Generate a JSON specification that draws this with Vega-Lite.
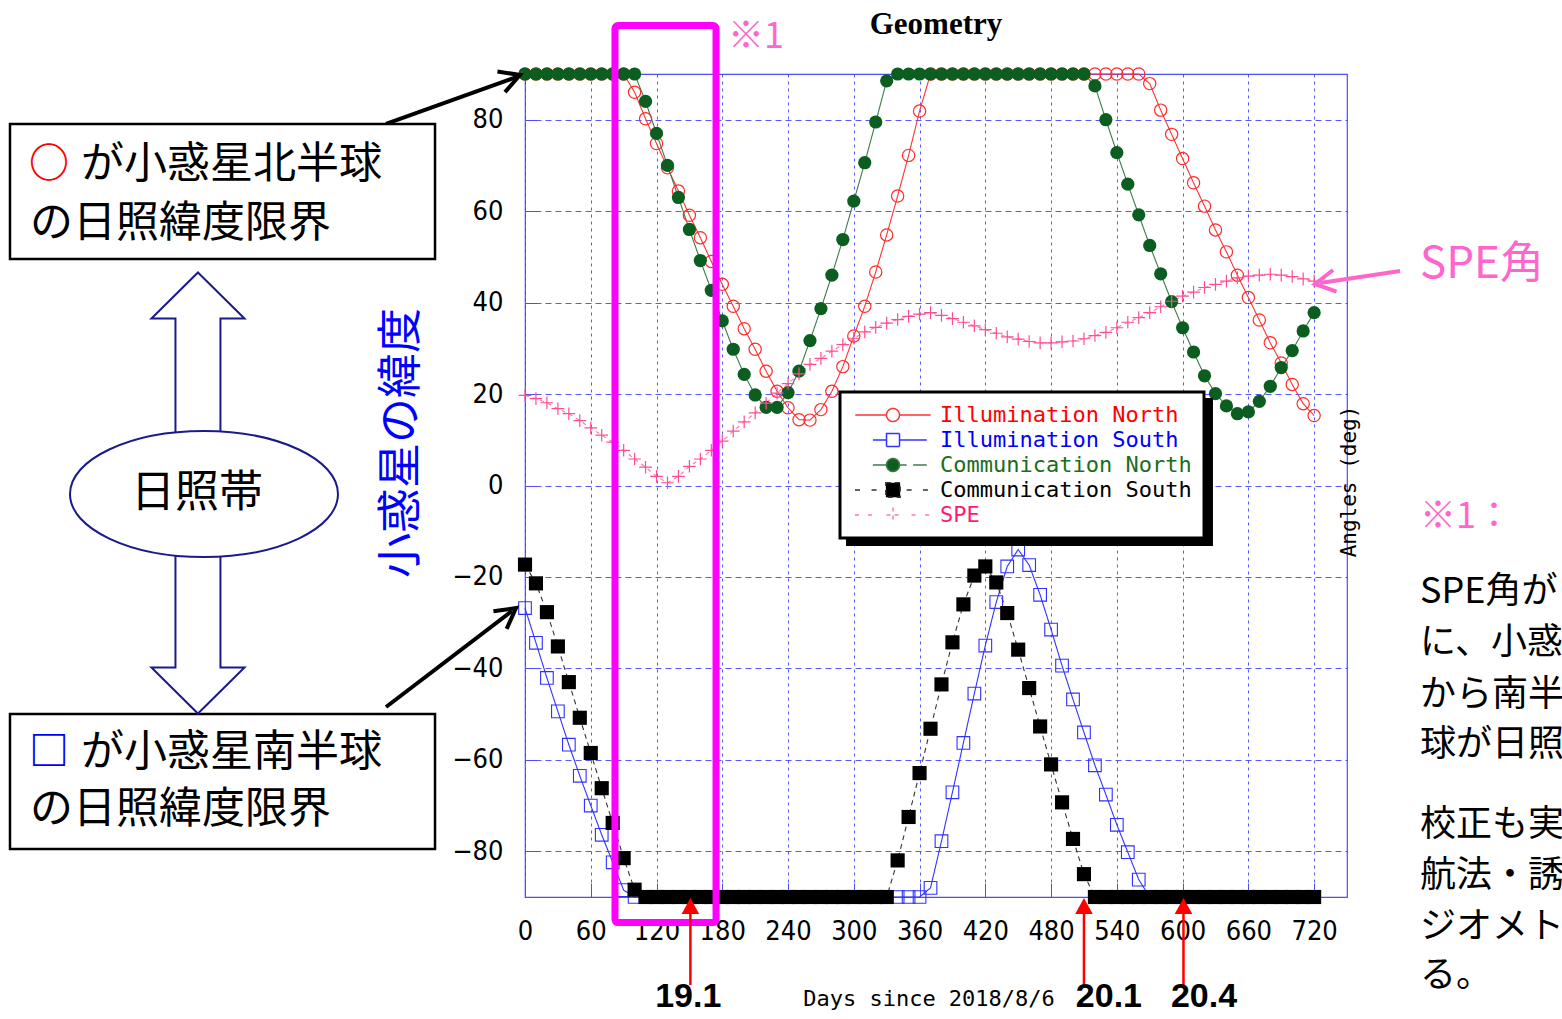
{
  "$schema": "https://vega.github.io/schema/vega-lite/v6.json",
  "width": 822,
  "height": 823,
  "autosize": {"type": "none"},
  "padding": {"left": 525, "top": 74, "right": 215, "bottom": 122},
  "background": "white",
  "title": {"text": "Geometry", "font": "Liberation Serif", "fontSize": 31, "fontWeight": "bold", "color": "#000000", "anchor": "middle", "frame": "group", "offset": -46, "baseline": "alphabetic"},
  "config": {
    "view": {"stroke": "#4d4dff", "strokeWidth": 1.2},
    "text": {"font": "Noto Sans CJK JP"}
  },
  "datasets": {
    "geo": [
      {"d":0,"Illumination North":90,"Illumination South":-26.8,"Communication North":90,"Communication South":-17.3,"SPE":19.7},
      {"d":10,"Illumination North":90,"Illumination South":-34.4,"Communication North":90,"Communication South":-21.4,"SPE":19.0},
      {"d":20,"Illumination North":90,"Illumination South":-42.1,"Communication North":90,"Communication South":-27.7,"SPE":18.1},
      {"d":30,"Illumination North":90,"Illumination South":-49.4,"Communication North":90,"Communication South":-35.2,"SPE":16.8},
      {"d":40,"Illumination North":90,"Illumination South":-56.7,"Communication North":90,"Communication South":-43.0,"SPE":15.7},
      {"d":50,"Illumination North":90,"Illumination South":-63.5,"Communication North":90,"Communication South":-50.8,"SPE":14.2},
      {"d":60,"Illumination North":90,"Illumination South":-70.0,"Communication North":90,"Communication South":-58.5,"SPE":12.6},
      {"d":70,"Illumination North":90,"Illumination South":-76.4,"Communication North":90,"Communication South":-66.2,"SPE":11.0},
      {"d":80,"Illumination North":90,"Illumination South":-82.4,"Communication North":90,"Communication South":-73.8,"SPE":9.5},
      {"d":90,"Illumination North":90,"Illumination South":-88.5,"Communication North":90,"Communication South":-81.5,"SPE":7.7},
      {"d":100,"Illumination North":86.0,"Illumination South":-90,"Communication North":90,"Communication South":-88.4,"SPE":5.8},
      {"d":110,"Illumination North":80.2,"Illumination South":-90,"Communication North":84.0,"Communication South":-90,"SPE":4.0},
      {"d":120,"Illumination North":74.8,"Illumination South":-90,"Communication North":77.0,"Communication South":-90,"SPE":2.0},
      {"d":130,"Illumination North":69.5,"Illumination South":-90,"Communication North":70.0,"Communication South":-90,"SPE":0.6},
      {"d":140,"Illumination North":64.4,"Illumination South":-90,"Communication North":63.0,"Communication South":-90,"SPE":2.0},
      {"d":150,"Illumination North":59.1,"Illumination South":-90,"Communication North":56.0,"Communication South":-90,"SPE":4.2},
      {"d":160,"Illumination North":54.2,"Illumination South":-90,"Communication North":49.2,"Communication South":-90,"SPE":5.8},
      {"d":170,"Illumination North":49.0,"Illumination South":-90,"Communication North":42.7,"Communication South":-90,"SPE":7.7},
      {"d":180,"Illumination North":44.0,"Illumination South":-90,"Communication North":36.0,"Communication South":-90,"SPE":9.7},
      {"d":190,"Illumination North":39.2,"Illumination South":-90,"Communication North":29.8,"Communication South":-90,"SPE":11.9},
      {"d":200,"Illumination North":34.3,"Illumination South":-90,"Communication North":24.3,"Communication South":-90,"SPE":13.9},
      {"d":210,"Illumination North":29.8,"Illumination South":-90,"Communication North":19.8,"Communication South":-90,"SPE":15.9},
      {"d":220,"Illumination North":25.0,"Illumination South":-90,"Communication North":17.1,"Communication South":-90,"SPE":18.0},
      {"d":230,"Illumination North":20.6,"Illumination South":-90,"Communication North":17.1,"Communication South":-90,"SPE":20.2},
      {"d":240,"Illumination North":17.0,"Illumination South":-90,"Communication North":20.3,"Communication South":-90,"SPE":22.3},
      {"d":250,"Illumination North":14.4,"Illumination South":-90,"Communication North":25.0,"Communication South":-90,"SPE":24.4},
      {"d":260,"Illumination North":14.3,"Illumination South":-90,"Communication North":31.7,"Communication South":-90,"SPE":26.5},
      {"d":270,"Illumination North":16.6,"Illumination South":-90,"Communication North":38.7,"Communication South":-90,"SPE":27.8},
      {"d":280,"Illumination North":20.6,"Illumination South":-90,"Communication North":46.0,"Communication South":-90,"SPE":29.4},
      {"d":290,"Illumination North":26.0,"Illumination South":-90,"Communication North":53.8,"Communication South":-90,"SPE":30.8},
      {"d":300,"Illumination North":32.7,"Illumination South":-90,"Communication North":62.2,"Communication South":-90,"SPE":32.2},
      {"d":310,"Illumination North":39.2,"Illumination South":-90,"Communication North":70.6,"Communication South":-90,"SPE":33.6},
      {"d":320,"Illumination North":46.7,"Illumination South":-90,"Communication North":79.5,"Communication South":-90,"SPE":34.6},
      {"d":330,"Illumination North":54.8,"Illumination South":-90,"Communication North":88.5,"Communication South":-90,"SPE":35.5},
      {"d":340,"Illumination North":63.3,"Illumination South":-90,"Communication North":90,"Communication South":-82.0,"SPE":36.3},
      {"d":350,"Illumination North":72.2,"Illumination South":-90,"Communication North":90,"Communication South":-72.5,"SPE":37.0},
      {"d":360,"Illumination North":81.9,"Illumination South":-90,"Communication North":90,"Communication South":-62.9,"SPE":37.5},
      {"d":370,"Illumination North":90,"Illumination South":-88.0,"Communication North":90,"Communication South":-53.2,"SPE":37.8},
      {"d":380,"Illumination North":90,"Illumination South":-77.8,"Communication North":90,"Communication South":-43.5,"SPE":37.2},
      {"d":390,"Illumination North":90,"Illumination South":-67.1,"Communication North":90,"Communication South":-34.3,"SPE":36.5},
      {"d":400,"Illumination North":90,"Illumination South":-56.3,"Communication North":90,"Communication South":-26.0,"SPE":35.7},
      {"d":410,"Illumination North":90,"Illumination South":-45.5,"Communication North":90,"Communication South":-19.7,"SPE":34.9},
      {"d":420,"Illumination North":90,"Illumination South":-35.0,"Communication North":90,"Communication South":-17.7,"SPE":34.1},
      {"d":430,"Illumination North":90,"Illumination South":-25.5,"Communication North":90,"Communication South":-21.2,"SPE":33.3},
      {"d":440,"Illumination North":90,"Illumination South":-17.7,"Communication North":90,"Communication South":-27.9,"SPE":32.5},
      {"d":450,"Illumination North":90,"Illumination South":-14.0,"Communication North":90,"Communication South":-35.9,"SPE":32.0},
      {"d":460,"Illumination North":90,"Illumination South":-17.4,"Communication North":90,"Communication South":-44.3,"SPE":31.5},
      {"d":470,"Illumination North":90,"Illumination South":-23.9,"Communication North":90,"Communication South":-52.7,"SPE":31.2},
      {"d":480,"Illumination North":90,"Illumination South":-31.5,"Communication North":90,"Communication South":-61.0,"SPE":31.2},
      {"d":490,"Illumination North":90,"Illumination South":-39.4,"Communication North":90,"Communication South":-69.3,"SPE":31.4},
      {"d":500,"Illumination North":90,"Illumination South":-46.8,"Communication North":90,"Communication South":-77.3,"SPE":31.6},
      {"d":510,"Illumination North":90,"Illumination South":-54.0,"Communication North":90,"Communication South":-85.0,"SPE":32.1},
      {"d":520,"Illumination North":90,"Illumination South":-61.2,"Communication North":87.4,"Communication South":-90,"SPE":32.8},
      {"d":530,"Illumination North":90,"Illumination South":-67.6,"Communication North":80.0,"Communication South":-90,"SPE":33.5},
      {"d":540,"Illumination North":90,"Illumination South":-74.2,"Communication North":72.8,"Communication South":-90,"SPE":34.5},
      {"d":550,"Illumination North":90,"Illumination South":-80.2,"Communication North":65.9,"Communication South":-90,"SPE":35.7},
      {"d":560,"Illumination North":90,"Illumination South":-86.2,"Communication North":59.2,"Communication South":-90,"SPE":36.7},
      {"d":570,"Illumination North":87.9,"Illumination South":-90,"Communication North":52.5,"Communication South":-90,"SPE":37.8},
      {"d":580,"Illumination North":82.1,"Illumination South":-90,"Communication North":46.3,"Communication South":-90,"SPE":39.1},
      {"d":590,"Illumination North":76.8,"Illumination South":-90,"Communication North":40.2,"Communication South":-90,"SPE":40.3},
      {"d":600,"Illumination North":71.5,"Illumination South":-90,"Communication North":34.5,"Communication South":-90,"SPE":41.4},
      {"d":610,"Illumination North":66.2,"Illumination South":-90,"Communication North":29.2,"Communication South":-90,"SPE":42.3},
      {"d":620,"Illumination North":61.1,"Illumination South":-90,"Communication North":24.0,"Communication South":-90,"SPE":43.3},
      {"d":630,"Illumination North":55.9,"Illumination South":-90,"Communication North":20.1,"Communication South":-90,"SPE":44.0},
      {"d":640,"Illumination North":51.1,"Illumination South":-90,"Communication North":17.4,"Communication South":-90,"SPE":44.7},
      {"d":650,"Illumination North":46.0,"Illumination South":-90,"Communication North":15.7,"Communication South":-90,"SPE":45.4},
      {"d":660,"Illumination North":41.1,"Illumination South":-90,"Communication North":16.1,"Communication South":-90,"SPE":45.8},
      {"d":670,"Illumination North":36.2,"Illumination South":-90,"Communication North":18.4,"Communication South":-90,"SPE":46.0},
      {"d":680,"Illumination North":31.2,"Illumination South":-90,"Communication North":21.7,"Communication South":-90,"SPE":46.2},
      {"d":690,"Illumination North":26.8,"Illumination South":-90,"Communication North":25.8,"Communication South":-90,"SPE":46.0},
      {"d":700,"Illumination North":22.1,"Illumination South":-90,"Communication North":29.5,"Communication South":-90,"SPE":45.7},
      {"d":710,"Illumination North":17.9,"Illumination South":-90,"Communication North":33.8,"Communication South":-90,"SPE":45.2},
      {"d":720,"Illumination North":15.3,"Illumination South":-90,"Communication North":37.8,"Communication South":-90,"SPE":44.7}
    ]
  },
  "layer": [
    {
      "data": {"name": "geo"},
      "transform": [{"fold": ["Illumination North", "Illumination South", "Communication North", "Communication South", "SPE"], "as": ["series", "v"]}],
      "mark": {"type": "line", "strokeWidth": 1.1},
      "encoding": {
        "x": {"field": "d", "type": "quantitative", "scale": {"domain": [0, 750], "nice": false, "zero": false},
          "axis": {"values": [0,30,60,90,120,150,180,210,240,270,300,330,360,390,420,450,480,510,540,570,600,630,660,690,720],
            "labelExpr": "datum.value % 60 === 0 ? datum.label : ''",
            "grid": true, "gridColor": "#3b3bff", "gridDash": [3, 4], "gridWidth": 1, "gridOpacity": 0.85,
            "domain": false, "ticks": true, "tickSize": -14, "tickColor": "#4d4dff", "tickWidth": 1,
            "labelPadding": 35, "labelFont": "Liberation Sans Narrow, Arial Narrow, DejaVu Sans Condensed, Liberation Sans", "labelFontSize": 27, "labelColor": "#000000",
            "labelFlush": false, "labelOverlap": false, "labelBound": false,
            "title": "Days since 2018/8/6", "titleFont": "DejaVu Sans Mono", "titleFontSize": 22, "titleFontWeight": "normal", "titleColor": "#000000",
            "titleX": 403.5, "titleY": 101, "titleAlign": "center", "titleBaseline": "middle", "titleAngle": 0}},
        "y": {"field": "v", "type": "quantitative", "scale": {"domain": [-90, 90], "nice": false, "zero": false},
          "axis": {"values": [-80,-60,-40,-20,0,20,40,60,80],
            "grid": true, "gridColor": "#3b3bff", "gridDash": [6, 4], "gridWidth": 1, "gridOpacity": 0.85,
            "domain": false, "ticks": true, "tickSize": -12, "tickColor": "#4d4dff", "tickWidth": 1,
            "labelPadding": 34, "labelFont": "Liberation Sans Narrow, Arial Narrow, DejaVu Sans Condensed, Liberation Sans", "labelFontSize": 27, "labelColor": "#000000",
            "labelOverlap": false, "labelBound": false, "labelFlush": false,
            "title": "Angles (deg)", "titleFont": "DejaVu Sans Mono", "titleFontSize": 21, "titleFontWeight": "normal", "titleColor": "#000000",
            "titleX": 824, "titleY": 407, "titleAngle": 270, "titleAlign": "center", "titleBaseline": "middle"}},
        "color": {"field": "series", "type": "nominal",
          "scale": {"domain": ["Illumination North", "Illumination South", "Communication North", "Communication South", "SPE"],
                    "range": ["#ff3333", "#3333ff", "#3d7a4a", "#333333", "#ff77aa"]},
          "legend": {"title": null, "orient": "none", "legendX": 315, "legendY": 318, "direction": "vertical", "zindex": 2,
            "fillColor": "#ffffff", "strokeColor": "#000000", "padding": 12, "rowPadding": 3,
            "labelFont": "DejaVu Sans Mono", "labelFontSize": 22, "labelLimit": 400,
            "symbolSize": 169, "symbolStrokeWidth": 1.5, "symbolOffset": 30, "labelOffset": 36,
            "encode": {
              "legend": {"update": {"strokeWidth": {"value": 3}}},
              "symbols": {"update": {
                "shape": {"signal": "datum.value === 'Illumination North' ? 'M-5.8,0H-1M1,0H5.8M-1,0A1,1 0 1,1 1,0A1,1 0 1,1 -1,0Z' : datum.value === 'Illumination South' ? 'M-3.1,0H-1M1,0H5.2M-1,-1H1V1H-1Z' : datum.value === 'Communication North' ? 'M-3.1,0H-1M1,0H2.1M3.1,0H5.2M-1,0A1,1 0 1,1 1,0A1,1 0 1,1 -1,0Z' : datum.value === 'Communication South' ? 'M-5.85,0H-4.8M-3.3,0H-2M2.1,0H3.3M4.6,0H5.95M-1.1,-1.1H1.1V1.1H-1.1Z' : 'M-5.85,0H-5.1M-3.85,0H-3.1M-1,0H1M0,-1.15V1.15M2.85,0H3.6M4.95,0H5.7'"},
                "fill": {"signal": "datum.value === 'Communication North' ? '#0b5e1f' : datum.value === 'Communication South' ? '#000000' : 'transparent'"},
                "stroke": {"signal": "datum.value === 'Illumination North' ? '#ff2a2a' : datum.value === 'Illumination South' ? '#2a2aff' : datum.value === 'Communication North' ? '#2f7040' : datum.value === 'Communication South' ? '#000000' : '#ff5c9d'"},
                "strokeWidth": {"value": 1.5},
                "size": {"value": 169},
                "opacity": {"value": 1}
              }},
              "labels": {"update": {"fill": {"signal": "datum.value === 'Illumination North' ? '#ff0000' : datum.value === 'Illumination South' ? '#0000ff' : datum.value === 'Communication North' ? '#1a6e1a' : datum.value === 'Communication South' ? '#000000' : '#ff1a75'"}}}
            }}},
        "strokeDash": {"field": "series", "type": "nominal",
          "scale": {"domain": ["Illumination North", "Illumination South", "Communication North", "Communication South", "SPE"],
                    "range": [[1, 0], [1, 0], [1, 0], [5, 4], [4, 4]]},
          "legend": null}
      }
    },
    {
      "data": {"name": "geo"},
      "transform": [{"fold": ["Illumination North"], "as": ["series", "v"]}],
      "mark": {"type": "point", "shape": "circle", "filled": false, "stroke": "#ff2a2a", "strokeWidth": 1.2, "size": 150, "opacity": 1},
      "encoding": {
        "x": {"field": "d", "type": "quantitative", "scale": {"domain": [0, 750], "nice": false, "zero": false}},
        "y": {"field": "v", "type": "quantitative", "scale": {"domain": [-90, 90], "nice": false, "zero": false}}
      }
    },
    {
      "data": {"name": "geo"},
      "transform": [{"fold": ["Illumination South"], "as": ["series", "v"]}],
      "mark": {"type": "point", "shape": "square", "filled": false, "stroke": "#3030ff", "strokeWidth": 1.1, "size": 160, "opacity": 1},
      "encoding": {
        "x": {"field": "d", "type": "quantitative", "scale": {"domain": [0, 750], "nice": false, "zero": false}},
        "y": {"field": "v", "type": "quantitative", "scale": {"domain": [-90, 90], "nice": false, "zero": false}}
      }
    },
    {
      "data": {"name": "geo"},
      "transform": [{"fold": ["Communication North"], "as": ["series", "v"]}],
      "mark": {"type": "point", "shape": "circle", "filled": true, "color": "#0b5e1f", "fill": "#0b5e1f", "size": 175, "opacity": 1},
      "encoding": {
        "x": {"field": "d", "type": "quantitative", "scale": {"domain": [0, 750], "nice": false, "zero": false}},
        "y": {"field": "v", "type": "quantitative", "scale": {"domain": [-90, 90], "nice": false, "zero": false}}
      }
    },
    {
      "data": {"name": "geo"},
      "transform": [{"fold": ["Communication South"], "as": ["series", "v"]}],
      "mark": {"type": "point", "shape": "square", "filled": true, "color": "#000000", "fill": "#000000", "size": 200, "opacity": 1},
      "encoding": {
        "x": {"field": "d", "type": "quantitative", "scale": {"domain": [0, 750], "nice": false, "zero": false}},
        "y": {"field": "v", "type": "quantitative", "scale": {"domain": [-90, 90], "nice": false, "zero": false}}
      }
    },
    {
      "data": {"name": "geo"},
      "transform": [{"fold": ["SPE"], "as": ["series", "v"]}],
      "mark": {"type": "point", "shape": "M-1,0H1M0,-1V1", "filled": false, "stroke": "#ff4d94", "strokeWidth": 1.2, "size": 160, "opacity": 1},
      "encoding": {
        "x": {"field": "d", "type": "quantitative", "scale": {"domain": [0, 750], "nice": false, "zero": false}},
        "y": {"field": "v", "type": "quantitative", "scale": {"domain": [-90, 90], "nice": false, "zero": false}}
      }
    },
    {
      "data": {"values": [{"x": 292.9, "x2": 627.7, "y": 19.14, "y2": -13.23}]},
      "mark": {"type": "rect", "fill": "#000000"},
      "encoding": {
        "x": {"field": "x", "type": "quantitative", "scale": {"domain": [0, 750], "nice": false, "zero": false}},
        "x2": {"field": "x2"},
        "y": {"field": "y", "type": "quantitative", "scale": {"domain": [-90, 90], "nice": false, "zero": false}},
        "y2": {"field": "y2"}
      }
    },
    {
      "data": {"values": [{"x": 82.1, "x2": 174.3, "y": 100.6, "y2": -95.6}]},
      "mark": {"type": "rect", "filled": false, "stroke": "#ff00ff", "strokeWidth": 7, "cornerRadius": 3},
      "encoding": {
        "x": {"field": "x", "type": "quantitative", "scale": {"domain": [0, 750], "nice": false, "zero": false}},
        "x2": {"field": "x2"},
        "y": {"field": "y", "type": "quantitative", "scale": {"domain": [-90, 90], "nice": false, "zero": false}},
        "y2": {"field": "y2"}
      }
    },
    {
      "data": {"values": [{"x": -126.8, "y": 79.07, "x2": -7.3, "y2": 89.35}, {"x": -126.8, "y": -48.45, "x2": -11.9, "y2": -27.45}]},
      "mark": {"type": "rule", "stroke": "#000000", "strokeWidth": 4},
      "encoding": {
        "x": {"field": "x", "type": "quantitative", "scale": {"domain": [0, 750], "nice": false, "zero": false}},
        "x2": {"field": "x2"},
        "y": {"field": "y", "type": "quantitative", "scale": {"domain": [-90, 90], "nice": false, "zero": false}},
        "y2": {"field": "y2"}
      }
    },
    {
      "data": {"values": [{"x": -4.56, "y": 89.78}]},
      "mark": {"type": "point", "shape": "M-1,-0.55L0,0L-1,0.55", "filled": false, "stroke": "#000000", "strokeWidth": 4, "size": 1600, "opacity": 1, "angle": -20},
      "encoding": {
        "x": {"field": "x", "type": "quantitative", "scale": {"domain": [0, 750], "nice": false, "zero": false}},
        "y": {"field": "y", "type": "quantitative", "scale": {"domain": [-90, 90], "nice": false, "zero": false}}
      }
    },
    {
      "data": {"values": [{"x": -8.2, "y": -26.8}]},
      "mark": {"type": "point", "shape": "M-1,-0.55L0,0L-1,0.55", "filled": false, "stroke": "#000000", "strokeWidth": 4, "size": 1600, "opacity": 1, "angle": -37},
      "encoding": {
        "x": {"field": "x", "type": "quantitative", "scale": {"domain": [0, 750], "nice": false, "zero": false}},
        "y": {"field": "y", "type": "quantitative", "scale": {"domain": [-90, 90], "nice": false, "zero": false}}
      }
    },
    {
      "data": {"values": [{"day": 150.9}, {"day": 510}, {"day": 600.8}]},
      "mark": {"type": "rule", "stroke": "#ff0000", "strokeWidth": 2.5},
      "encoding": {
        "x": {"field": "day", "type": "quantitative", "scale": {"domain": [0, 750], "nice": false, "zero": false}},
        "y": {"datum": -109.25, "type": "quantitative", "scale": {"domain": [-90, 90], "nice": false, "zero": false}},
        "y2": {"datum": -93}
      }
    },
    {
      "data": {"values": [{"day": 150.9}, {"day": 510}, {"day": 600.8}]},
      "mark": {"type": "point", "shape": "M0,0L0.55,1L-0.55,1Z", "filled": true, "fill": "#ff0000", "color": "#ff0000", "size": 1024, "opacity": 1},
      "encoding": {
        "x": {"field": "day", "type": "quantitative", "scale": {"domain": [0, 750], "nice": false, "zero": false}},
        "y": {"datum": -90.22, "type": "quantitative", "scale": {"domain": [-90, 90], "nice": false, "zero": false}}
      }
    },
    {
      "data": {"values": [{"lx": 149, "label": "19.1"}, {"lx": 532.8, "label": "20.1"}, {"lx": 619.5, "label": "20.4"}]},
      "mark": {"type": "text", "font": "Liberation Sans", "fontSize": 34, "fontWeight": "bold", "color": "#000000", "align": "center", "baseline": "middle"},
      "encoding": {
        "x": {"field": "lx", "type": "quantitative", "scale": {"domain": [0, 750], "nice": false, "zero": false}},
        "y": {"datum": -111.9, "type": "quantitative", "scale": {"domain": [-90, 90], "nice": false, "zero": false}},
        "text": {"field": "label"}
      }
    },
    {
      "data": {"values": [{"x": -469.9, "x2": -82.1, "y": 79.07, "y2": 49.54}, {"x": -469.9, "x2": -82.1, "y": -49.98, "y2": -79.5}]},
      "mark": {"type": "rect", "fill": "#ffffff", "stroke": "#000000", "strokeWidth": 2.5},
      "encoding": {
        "x": {"field": "x", "type": "quantitative", "scale": {"domain": [0, 750], "nice": false, "zero": false}},
        "x2": {"field": "x2"},
        "y": {"field": "y", "type": "quantitative", "scale": {"domain": [-90, 90], "nice": false, "zero": false}},
        "y2": {"field": "y2"}
      }
    },
    {
      "data": {"values": [
        {"x": -405.0, "y": 70.1, "text": "が小惑星北半球"},
        {"x": -451.6, "y": 57.2, "text": "の日照緯度限界"},
        {"x": -405.0, "y": -58.5, "text": "が小惑星南半球"},
        {"x": -451.6, "y": -71.0, "text": "の日照緯度限界"}]},
      "mark": {"type": "text", "font": "Noto Sans CJK JP", "fontSize": 43, "color": "#000000", "align": "left", "baseline": "middle"},
      "encoding": {
        "x": {"field": "x", "type": "quantitative", "scale": {"domain": [0, 750], "nice": false, "zero": false}},
        "y": {"field": "y", "type": "quantitative", "scale": {"domain": [-90, 90], "nice": false, "zero": false}},
        "text": {"field": "text"}
      }
    },
    {
      "data": {"values": [{"x": -452.5, "y": 70.1, "text": "○"}]},
      "mark": {"type": "text", "font": "Noto Sans CJK JP", "fontSize": 40, "fontWeight": "bold", "color": "#ff0000", "align": "left", "baseline": "middle"},
      "encoding": {
        "x": {"field": "x", "type": "quantitative", "scale": {"domain": [0, 750], "nice": false, "zero": false}},
        "y": {"field": "y", "type": "quantitative", "scale": {"domain": [-90, 90], "nice": false, "zero": false}},
        "text": {"field": "text"}
      }
    },
    {
      "data": {"values": [{"x": -452.5, "y": -58.5, "text": "□"}]},
      "mark": {"type": "text", "font": "Noto Sans CJK JP", "fontSize": 40, "fontWeight": "bold", "color": "#0000ff", "align": "left", "baseline": "middle"},
      "encoding": {
        "x": {"field": "x", "type": "quantitative", "scale": {"domain": [0, 750], "nice": false, "zero": false}},
        "y": {"field": "y", "type": "quantitative", "scale": {"domain": [-90, 90], "nice": false, "zero": false}},
        "text": {"field": "text"}
      }
    },
    {
      "data": {"values": [{"x": -298.4, "y": -1.64}]},
      "mark": {"type": "point", "shape": "M0,-1L0.211,-0.791L0.102,-0.791L0.102,0.791L0.211,0.791L0,1L-0.211,0.791L-0.102,0.791L-0.102,-0.791L-0.211,-0.791Z", "filled": true, "fill": "#ffffff", "stroke": "#1a1a8c", "strokeWidth": 2, "size": 194481, "opacity": 1},
      "encoding": {
        "x": {"field": "x", "type": "quantitative", "scale": {"domain": [0, 750], "nice": false, "zero": false}},
        "y": {"field": "y", "type": "quantitative", "scale": {"domain": [-90, 90], "nice": false, "zero": false}}
      }
    },
    {
      "data": {"values": [{"x": -292.9, "y": -1.86}]},
      "mark": {"type": "point", "shape": "M-1,0A1,0.47 0 1,1 1,0A1,0.47 0 1,1 -1,0Z", "filled": true, "fill": "#ffffff", "stroke": "#1a1a8c", "strokeWidth": 2, "size": 71824, "opacity": 1},
      "encoding": {
        "x": {"field": "x", "type": "quantitative", "scale": {"domain": [0, 750], "nice": false, "zero": false}},
        "y": {"field": "y", "type": "quantitative", "scale": {"domain": [-90, 90], "nice": false, "zero": false}}
      }
    },
    {
      "data": {"values": [{"x": -299.3, "y": -1.86, "text": "日照帯"}]},
      "mark": {"type": "text", "font": "Noto Sans CJK JP", "fontSize": 44, "color": "#000000", "align": "center", "baseline": "middle"},
      "encoding": {
        "x": {"field": "x", "type": "quantitative", "scale": {"domain": [0, 750], "nice": false, "zero": false}},
        "y": {"field": "y", "type": "quantitative", "scale": {"domain": [-90, 90], "nice": false, "zero": false}},
        "text": {"field": "text"}
      }
    },
    {
      "data": {"values": [{"x": -112.2, "y": 9.3, "text": "小惑星の緯度"}]},
      "mark": {"type": "text", "font": "Noto Sans CJK JP", "fontSize": 45, "color": "#0000ff", "align": "center", "baseline": "middle", "angle": 270},
      "encoding": {
        "x": {"field": "x", "type": "quantitative", "scale": {"domain": [0, 750], "nice": false, "zero": false}},
        "y": {"field": "y", "type": "quantitative", "scale": {"domain": [-90, 90], "nice": false, "zero": false}},
        "text": {"field": "text"}
      }
    },
    {
      "data": {"values": [{"x": 185.2, "y": 98.1, "text": "※1"}, {"x": 816.6, "y": -6.9, "text": "※1："}]},
      "mark": {"type": "text", "font": "Noto Sans CJK JP", "fontSize": 36, "color": "#ff66cc", "align": "left", "baseline": "middle"},
      "encoding": {
        "x": {"field": "x", "type": "quantitative", "scale": {"domain": [0, 750], "nice": false, "zero": false}},
        "y": {"field": "y", "type": "quantitative", "scale": {"domain": [-90, 90], "nice": false, "zero": false}},
        "text": {"field": "text"}
      }
    },
    {
      "data": {"values": [{"x": 816.6, "y": 48.2, "text": "SPE角"}]},
      "mark": {"type": "text", "font": "Noto Sans CJK JP", "fontSize": 44, "color": "#ff66cc", "align": "left", "baseline": "middle"},
      "encoding": {
        "x": {"field": "x", "type": "quantitative", "scale": {"domain": [0, 750], "nice": false, "zero": false}},
        "y": {"field": "y", "type": "quantitative", "scale": {"domain": [-90, 90], "nice": false, "zero": false}},
        "text": {"field": "text"}
      }
    },
    {
      "data": {"values": [{"x": 798.4, "y": 46.9, "x2": 725.4, "y2": 44.3}]},
      "mark": {"type": "rule", "stroke": "#ff66cc", "strokeWidth": 4},
      "encoding": {
        "x": {"field": "x", "type": "quantitative", "scale": {"domain": [0, 750], "nice": false, "zero": false}},
        "x2": {"field": "x2"},
        "y": {"field": "y", "type": "quantitative", "scale": {"domain": [-90, 90], "nice": false, "zero": false}},
        "y2": {"field": "y2"}
      }
    },
    {
      "data": {"values": [{"x": 720.8, "y": 44.07}]},
      "mark": {"type": "point", "shape": "M-1,-0.55L0,0L-1,0.55", "filled": false, "stroke": "#ff66cc", "strokeWidth": 4, "size": 1600, "opacity": 1, "angle": 171},
      "encoding": {
        "x": {"field": "x", "type": "quantitative", "scale": {"domain": [0, 750], "nice": false, "zero": false}},
        "y": {"field": "y", "type": "quantitative", "scale": {"domain": [-90, 90], "nice": false, "zero": false}}
      }
    },
    {
      "data": {"values": [
        {"x": 816.6, "y": -23.29, "text": "SPE角が"},
        {"x": 816.6, "y": -34.45, "text": "に、小惑星"},
        {"x": 816.6, "y": -45.82, "text": "から南半球"},
        {"x": 816.6, "y": -56.75, "text": "球が日照と"},
        {"x": 816.6, "y": -74.25, "text": "校正も実施"},
        {"x": 816.6, "y": -85.41, "text": "航法・誘導"},
        {"x": 816.6, "y": -96.56, "text": "ジオメトリ"},
        {"x": 816.6, "y": -107.3, "text": "る。"}]},
      "mark": {"type": "text", "font": "Noto Sans CJK JP", "fontSize": 36, "color": "#000000", "align": "left", "baseline": "middle"},
      "encoding": {
        "x": {"field": "x", "type": "quantitative", "scale": {"domain": [0, 750], "nice": false, "zero": false}},
        "y": {"field": "y", "type": "quantitative", "scale": {"domain": [-90, 90], "nice": false, "zero": false}},
        "text": {"field": "text"}
      }
    }
  ]
}
